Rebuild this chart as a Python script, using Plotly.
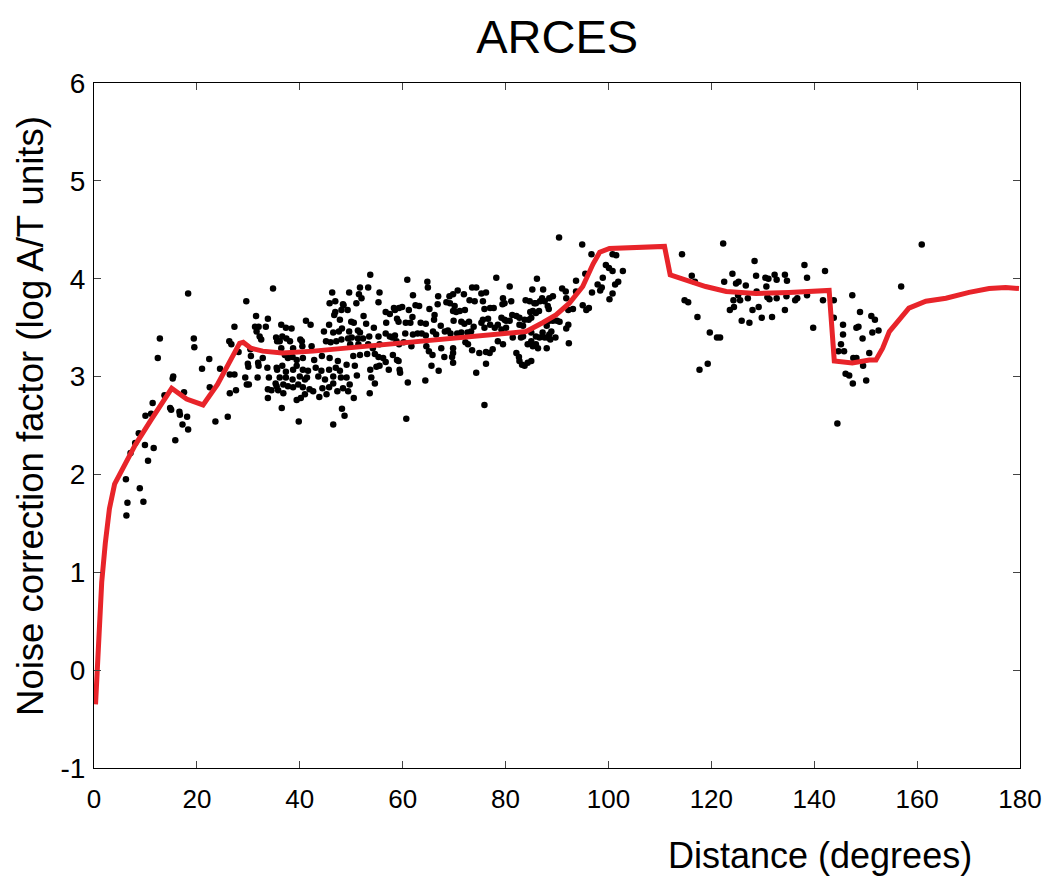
import plotly.graph_objects as go

# ---- scatter observations (distance in degrees, log A/T units) ----
obs_x = [
 18.3,34.8,29.6,12.8,12.4,19.4,19.5,22.4,21.0,24.5,22.5,15.4,15.3,17.5,13.7,11.4,14.8,15.0,16.6,16.7,
 11.1,10.0,18.1,17.2,18.3,15.8,23.6,26.0,8.7,8.0,9.9,11.6,7.1,10.5,6.2,8.9,6.5,9.6,6.3,26.3,
 26.7,27.3,26.4,27.3,26.4,27.6,28.1,30.4,29.9,30.0,29.7,30.1,29.4,30.5,31.5,31.3,32.0,33.8,33.4,31.6,
 32.2,32.5,31.9,32.0,31.8,32.8,33.7,34.0,33.8,34.5,33.8,35.4,35.6,35.5,35.6,35.3,35.5,35.8,
 53.7,60.9,64.8,64.9,51.7,53.3,73.5,74.3,70.7,46.3,49.6,51.5,55.5,62.0,66.9,71.9,69.1,69.8,45.8,46.9,
 48.4,51.0,55.3,52.0,59.9,59.3,62.5,63.2,66.8,68.5,69.2,70.1,73.0,74.0,46.7,46.9,48.1,49.3,48.5,56.7,
 57.5,58.3,58.5,61.2,61.9,65.2,66.2,69.8,70.4,71.1,72.1,52.4,41.2,42.1,45.7,47.8,50.0,50.5,52.9,54.4,
 56.8,58.9,59.2,60.6,61.5,63.5,64.5,66.1,67.4,68.2,68.8,69.9,71.4,72.0,72.9,73.8,36.4,38.4,37.3,36.6,
 37.4,38.1,40.1,40.4,44.7,46.5,47.6,48.2,49.6,51.3,51.7,48.1,49.4,50.1,51.3,52.3,53.5,55.3,56.7,57.5,
 58.0,58.5,60.5,62.0,62.9,63.7,64.5,65.9,66.5,69.3,70.6,71.4,72.6,73.3,36.1,36.4,38.7,40.5,42.3,45.1,
 46.0,47.1,49.8,51.4,53.3,54.2,55.5,58.8,59.3,60.2,61.7,64.6,67.5,69.8,72.2,72.7,37.1,37.7,38.6,39.4,
 40.6,42.8,44.3,45.8,47.4,50.4,51.7,53.1,54.6,55.3,56.2,56.7,58.1,58.9,59.2,65.1,65.8,68.1,69.6,69.8,
 73.5,69.8,36.6,37.3,38.7,39.4,40.6,41.6,43.1,44.2,45.7,47.0,47.8,49.1,50.7,53.7,54.9,55.5,57.3,59.4,
 59.5,65.6,67.0,74.3,36.1,37.3,38.6,40.0,41.0,41.4,43.6,44.9,46.5,48.0,49.1,51.1,53.9,54.6,61.0,64.4,
 36.8,37.7,38.7,39.7,40.6,41.9,42.6,44.4,45.7,46.5,47.3,48.4,49.7,49.4,53.6,43.8,45.2,41.0,50.5,39.4,
 40.2,36.8,36.5,48.2,48.7,39.8,46.5,60.7,
 90.4,94.9,96.7,99.5,100.1,100.8,100.8,101.5,102.8,95.5,93.7,98.9,97.9,98.4,98.7,101.3,101.9,100.8,100.2,96.8,
 78.2,80.8,86.1,85.2,87.3,91.0,91.7,93.7,89.2,88.5,87.1,87.6,86.7,91.8,88.2,88.4,85.6,85.9,84.7,92.2,
 93.1,95.0,95.7,96.2,84.8,85.3,85.9,86.5,81.1,79.5,79.8,79.4,83.9,77.0,77.7,75.9,75.3,76.2,75.6,81.3,
 82.1,82.7,79.2,79.8,80.1,80.8,82.7,83.7,83.4,84.5,85.0,75.6,76.6,75.3,77.0,75.9,77.9,78.5,79.2,80.1,
 88.5,89.2,90.0,90.5,88.0,88.9,88.5,92.2,91.8,87.2,88.2,87.6,88.7,89.7,85.0,85.9,86.6,81.4,83.0,83.4,
 84.3,85.3,85.0,85.9,86.3,88.0,92.3,78.5,79.5,77.5,76.9,76.2,74.9,82.1,82.6,82.7,83.2,83.7,84.3,85.0,
 76.2,75.9,
 122.3,114.3,128.4,116.2,116.8,124.1,122.5,124.8,125.3,126.7,128.7,130.5,131.1,132.3,132.7,130.7,134.3,134.7,138.1,138.6,
 142.1,128.8,125.2,124.3,125.6,127.1,130.9,131.3,132.7,134.6,136.3,136.7,138.6,141.7,114.8,115.5,124.4,123.6,128.0,129.2,
 134.3,117.3,125.9,127.4,129.8,131.8,139.8,119.7,121.1,121.7,119.3,117.7,
 160.9,156.9,143.8,147.4,143.8,148.9,145.6,145.6,148.2,148.6,151.1,151.8,151.3,152.5,149.4,145.2,144.7,145.8,150.7,147.6,
 148.2,149.5,146.1,146.8,147.5,150.1,144.5,
]
obs_y = [
 3.85,3.90,3.77,3.39,3.19,3.39,3.30,3.18,3.08,3.08,2.89,3.00,2.98,2.84,2.81,2.73,2.68,2.66,2.64,2.61,
 2.62,2.60,2.59,2.51,2.46,2.35,2.54,2.59,2.42,2.32,2.30,2.27,2.22,2.14,1.95,1.86,1.71,1.72,1.58,3.36,
 3.33,3.51,3.02,3.02,2.83,2.86,3.25,3.28,3.13,3.10,2.92,2.92,2.99,3.21,3.62,3.51,3.51,3.59,3.51,3.46,
 3.41,3.38,3.14,3.11,2.99,3.19,3.09,2.99,2.87,2.86,2.78,3.40,3.36,3.09,3.07,2.93,2.90,2.86,
 4.04,3.99,3.97,3.91,3.91,3.91,3.91,3.91,3.88,3.86,3.86,3.84,3.86,3.83,3.82,3.84,3.82,3.84,3.75,3.77,
 3.74,3.75,3.76,3.80,3.71,3.70,3.73,3.72,3.74,3.76,3.75,3.72,3.78,3.77,3.63,3.66,3.68,3.68,3.73,3.66,
 3.64,3.70,3.68,3.68,3.61,3.69,3.63,3.67,3.66,3.67,3.68,3.62,3.57,3.53,3.53,3.58,3.56,3.55,3.54,3.50,
 3.55,3.59,3.56,3.55,3.55,3.55,3.54,3.58,3.52,3.46,3.47,3.57,3.56,3.54,3.56,3.51,3.53,3.49,3.50,3.41,
 3.39,3.36,3.38,3.36,3.46,3.45,3.46,3.49,3.46,3.47,3.45,3.38,3.39,3.40,3.39,3.39,3.41,3.41,3.44,3.41,
 3.40,3.42,3.44,3.43,3.44,3.44,3.42,3.46,3.43,3.44,3.44,3.45,3.45,3.46,3.36,3.29,3.29,3.31,3.31,3.36,
 3.35,3.36,3.33,3.33,3.33,3.29,3.33,3.36,3.33,3.35,3.31,3.31,3.29,3.29,3.35,3.33,3.22,3.19,3.20,3.17,
 3.19,3.17,3.21,3.19,3.16,3.21,3.22,3.23,3.23,3.20,3.19,3.15,3.22,3.17,3.16,3.26,3.22,3.20,3.20,3.14,
 3.27,3.24,3.11,3.05,3.07,3.11,3.07,3.06,3.09,3.06,3.07,3.09,3.06,3.12,3.11,3.07,3.10,3.11,3.07,3.07,
 3.04,3.11,3.06,3.04,2.99,2.99,2.97,3.00,2.97,2.99,3.00,2.97,3.00,2.99,2.99,3.01,2.99,2.93,2.94,2.96,
 2.92,2.90,2.89,2.92,2.89,2.87,2.85,2.88,2.89,2.93,2.85,2.88,2.92,2.85,2.83,2.79,2.82,2.82,2.78,2.76,
 2.78,2.83,2.68,2.67,2.60,2.54,2.51,2.57,
 4.42,4.35,4.25,4.14,4.11,4.08,4.25,4.24,4.08,4.05,3.98,4.01,3.94,3.88,3.91,3.94,3.97,3.85,3.79,3.86,
 4.01,3.92,4.00,3.89,3.89,3.90,3.87,3.87,3.82,3.80,3.80,3.77,3.77,3.80,3.72,3.69,3.75,3.75,3.77,3.68,
 3.69,3.73,3.68,3.70,3.66,3.67,3.65,3.67,3.77,3.80,3.75,3.74,3.78,3.70,3.70,3.69,3.85,3.86,3.77,3.63,
 3.62,3.60,3.60,3.58,3.57,3.57,3.53,3.58,3.52,3.58,3.60,3.58,3.59,3.55,3.53,3.50,3.50,3.53,3.48,3.50,
 3.57,3.57,3.57,3.56,3.52,3.46,3.43,3.53,3.49,3.45,3.40,3.40,3.38,3.40,3.45,3.41,3.40,3.40,3.40,3.41,
 3.33,3.31,3.36,3.33,3.29,3.29,3.34,3.36,3.33,3.28,3.24,3.25,3.24,3.24,3.20,3.16,3.12,3.11,3.14,3.16,
 3.13,2.71,
 4.36,4.25,4.18,4.03,3.97,4.05,3.97,3.95,3.97,3.93,4.03,4.01,4.00,4.04,3.99,3.92,4.04,3.98,4.14,4.01,
 4.08,3.87,3.83,3.78,3.78,3.80,3.81,3.79,3.80,3.82,3.78,3.80,3.83,3.78,3.78,3.76,3.71,3.68,3.68,3.71,
 3.68,3.61,3.57,3.55,3.60,3.61,3.50,3.45,3.40,3.40,3.13,3.07,
 4.35,3.92,3.78,3.83,3.60,3.66,3.53,3.43,3.50,3.51,3.62,3.58,3.45,3.47,3.39,3.33,3.26,3.26,3.24,3.19,
 3.19,3.11,3.03,3.01,2.93,2.96,2.52,
]

# ---- fitted noise-correction curve ----
curve_x = [0.3, 0.8, 1.5, 2.2, 3.0, 4.0, 5.5, 8.0, 11.0, 15.1, 18.0, 21.2, 24.0, 28.3, 29.0, 30.5,
           32.8, 36.6, 42.6, 49.1, 55.5, 62.0, 68.5, 75.0, 80.0, 84.0, 87.2, 89.8, 92.4, 95.0,
           97.0, 98.3, 100.2, 110.9, 112.0, 115.7, 118.9, 122.9, 128.7, 135.1, 142.9, 143.9,
           147.4, 150.7, 152.0, 153.3, 154.6, 156.5, 158.4, 161.7, 165.6, 170.1, 174.0, 177.2, 179.8]
curve_y = [-0.35, 0.3, 0.9, 1.3, 1.65, 1.9, 2.05, 2.3, 2.55, 2.88, 2.77, 2.71, 2.92, 3.34, 3.35, 3.29,
           3.26, 3.24, 3.26, 3.29, 3.33, 3.36, 3.39, 3.42, 3.44, 3.46, 3.55, 3.63, 3.75, 3.92,
           4.15, 4.27, 4.31, 4.33, 4.04, 3.97, 3.92, 3.87, 3.85, 3.86, 3.88, 3.16,
           3.14, 3.17, 3.17, 3.29, 3.46, 3.58, 3.70, 3.77, 3.80, 3.86, 3.90, 3.91, 3.90]

x_ticks = [0, 20, 40, 60, 80, 100, 120, 140, 160, 180]
y_ticks = [-1, 0, 1, 2, 3, 4, 5, 6]
y_tick_text = ["-1", "0", "1", "2", "3", "4", "5", "6"]

FONT = "Liberation Sans, Arial, Helvetica, sans-serif"

fig = go.Figure()
fig.add_trace(go.Scatter(x=obs_x, y=obs_y, mode="markers",
                         marker=dict(color="black", size=6.5, line=dict(width=0)),
                         showlegend=False, hoverinfo="skip"))
fig.add_trace(go.Scatter(x=curve_x, y=curve_y, mode="lines",
                         line=dict(color="#e8242a", width=5),
                         showlegend=False))

fig.update_layout(
    width=1050, height=883,
    margin=dict(l=86, r=38, t=75, b=123),
    paper_bgcolor="white", plot_bgcolor="white",
    font=dict(family=FONT, color="black"),
    title=dict(text="ARCES", x=0.523, xanchor="center", y=0.968, yanchor="middle",
               font=dict(size=47, family=FONT)),
    xaxis=dict(range=[0, 180], tickvals=x_ticks, ticks="inside", ticklen=7,
               showline=True, linecolor="black", linewidth=1, mirror="ticks",
               showgrid=False, zeroline=False, automargin=False,
               tickfont=dict(size=26, family=FONT),
               ticklabelstandoff=8),
    yaxis=dict(range=[-1, 6], tickvals=y_ticks, ticktext=y_tick_text, ticks="inside", ticklen=7,
               showline=True, linecolor="black", linewidth=1, mirror="ticks",
               showgrid=False, zeroline=False, automargin=False,
               tickfont=dict(size=28, family=FONT), ticklabelstandoff=2),
    annotations=[
        dict(text="Distance (degrees)", xref="paper", yref="paper",
             x=0.784, y=-0.128, xanchor="center", yanchor="middle", showarrow=False,
             font=dict(size=36, family=FONT)),
        dict(text="Noise correction factor (log A/T units)", xref="paper", yref="paper",
             x=-0.068, y=0.514, xanchor="center", yanchor="middle", textangle=-90,
             showarrow=False, font=dict(size=36.5, family=FONT)),
    ],
)

fig.write_html("out.html")
